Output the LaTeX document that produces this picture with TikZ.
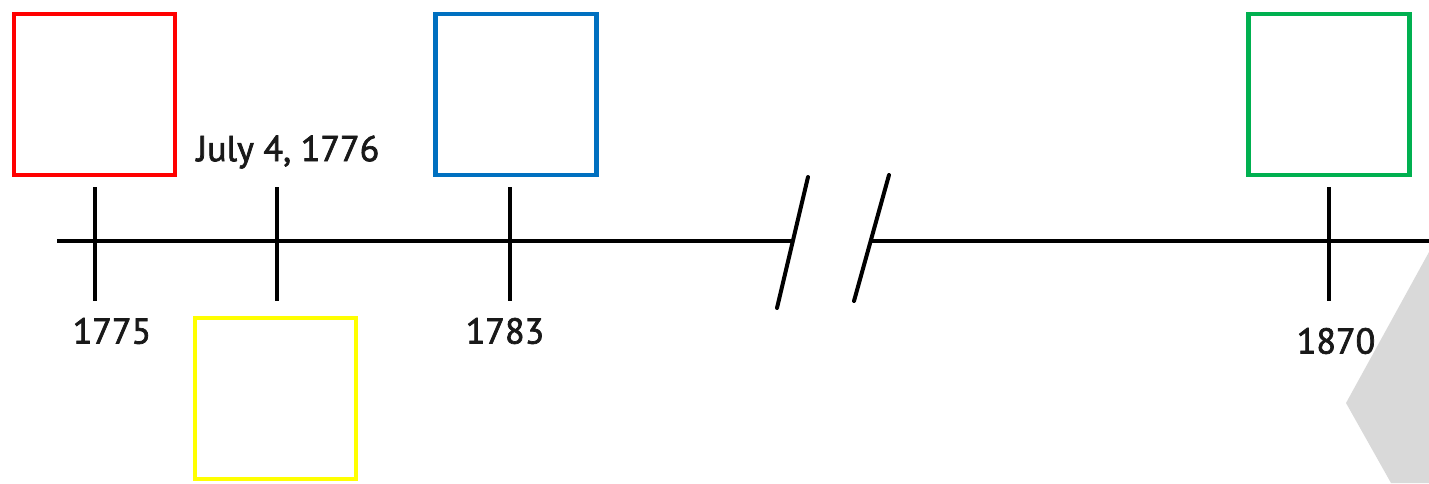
\documentclass[tikz,border=0pt]{standalone}
\usepackage{fontspec}
\setmainfont{PT Sans}
\newfontfamily\labfont{PT Sans}[FakeBold=2]
\definecolor{boxred}{HTML}{FF0000}
\definecolor{boxblue}{HTML}{0070C0}
\definecolor{boxgreen}{HTML}{00B050}
\definecolor{boxyellow}{HTML}{FFFF00}
\definecolor{cornergrey}{HTML}{D9D9D9}
\tikzset{
  eventbox/.style={draw, line width=3.6pt, minimum width=120.75pt, minimum height=120.75pt, inner sep=0pt, fill=white},
  tickline/.style={line width=2.8pt, line cap=butt},
  axisline/.style={line width=3pt},
  yearlabel/.style={font=\labfont\fontsize{27}{30}\selectfont, text=black!90, inner sep=0pt}
}
\begin{document}
\begin{tikzpicture}[x=0.75pt, y=-0.75pt]
\useasboundingbox (0,0) rectangle (1429,483);
% grey shape at bottom right
\fill[cornergrey] (1429,252) -- (1346,403) -- (1391,483) -- (1429,483) -- cycle;
% boxes
\node[eventbox, draw=boxred] (red) at (94.5,94.5) {};
\node[eventbox, draw=boxblue] (blue) at (516,94.5) {};
\node[eventbox, draw=boxgreen] (green) at (1329,94.5) {};
\node[eventbox, draw=boxyellow] (yellow) at (275.5,398.5) {};
% axis
\coordinate (axL) at (57,241);
\coordinate (brA) at (792,241);
\coordinate (brB) at (870,241);
\coordinate (axR) at (1429,241);
\draw[axisline] (axL) -- (brA);
\draw[axisline] (brB) -- (axR);
% break slashes
\coordinate (s1t) at (808,177);
\coordinate (s1b) at (777,308);
\coordinate (s2t) at (889,175);
\coordinate (s2b) at (854,301);
\draw[axisline, line cap=round] (s1t) -- (s1b);
\draw[axisline, line cap=round] (s2t) -- (s2b);
% ticks
\foreach \n/\x in {t1775/95, t1776/277, t1783/510, t1870/1329}{
  \coordinate (\n top) at (\x,187);
  \coordinate (\n bot) at (\x,301);
  \draw[tickline] (\n top) -- (\n bot);
}
% labels
\node[yearlabel] (l1775) at (112,331) {1775};
\node[yearlabel] (l1776) at (288,152) {July 4, 1776};
\node[yearlabel] (l1783) at (505,331) {1783};
\node[yearlabel] (l1870) at (1336,341) {1870};
\end{tikzpicture}
\end{document}
